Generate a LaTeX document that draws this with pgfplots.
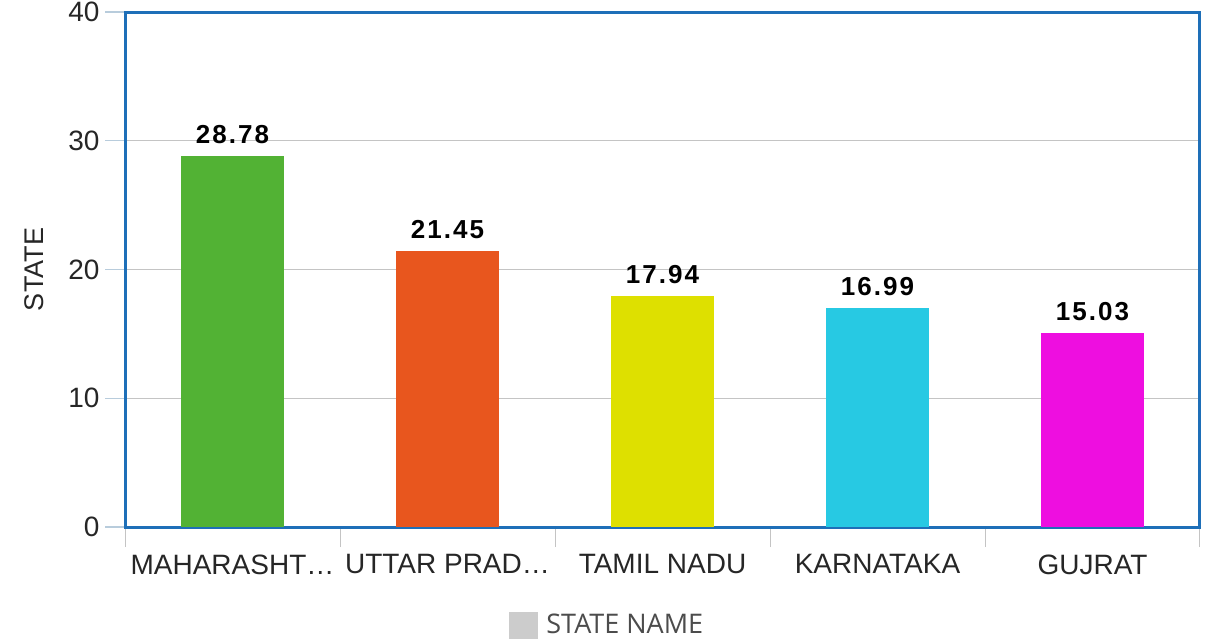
\documentclass[border=0pt]{standalone}
\usepackage{fontspec}
\setmainfont{Liberation Sans}
\newfontfamily\legfont{Open Sans}
\newfontfamily\barfont[LetterSpace=8]{Liberation Sans Bold}
\usepackage{pgfplots}
\pgfplotsset{compat=1.18}
\definecolor{cgreen}{HTML}{52B234}
\definecolor{corange}{HTML}{E8561E}
\definecolor{cyellow}{HTML}{DEE000}
\definecolor{ccyan}{HTML}{27C9E3}
\definecolor{cmag}{HTML}{EE0EE0}
\definecolor{frame}{HTML}{1E6FB8}
\definecolor{gridc}{HTML}{C4C4C4}
\definecolor{tickc}{HTML}{B8CCDC}
\begin{document}
\begin{tikzpicture}[x=1pt,y=1pt]
\useasboundingbox (0,0) rectangle (1206,641);
\begin{axis}[
  at={(125pt,114pt)}, anchor=south west,
  scale only axis, width=1075pt, height=515pt,
  xmin=-0.5, xmax=4.5, ymin=0, ymax=40,
  ybar, bar width=103pt, bar shift=0pt,
  clip=false,
  axis line style={draw=frame, line width=3pt},
  xtick={0,1,2,3,4},
  xticklabels={MAHARASHT\ldots,UTTAR PRAD\ldots,TAMIL NADU,KARNATAKA,GUJRAT},
  minor xtick={-0.5,0.5,1.5,2.5,3.5,4.5},
  xtick pos=bottom, ytick pos=left,
  tick align=outside,
  major x tick style={draw=none},
  minor x tick style={draw=gridc, line width=1pt},
  minor tick length=20pt,
  ytick={0,10,20,30,40},
  major tick length=20pt,
  ytick style={draw=tickc, line width=1.2pt},
  ymajorgrids, grid style={draw=gridc, line width=1.2pt},
  /pgf/number format/assume math mode=true,
  ticklabel style={font=\fontsize{28}{30}\selectfont, text=black!85},
  yticklabel style={xshift=-2pt},
  xticklabel style={yshift=-4pt},
  ylabel={STATE}, ylabel style={font=\fontsize{27}{30}\selectfont, text=black!85, yshift=18pt},
  nodes near coords,
  nodes near coords style={font=\barfont\fontsize{26}{28}\selectfont, text=black, yshift=9pt, /pgf/number format/.cd, fixed, precision=2, fixed zerofill},
  legend style={at={(0.448,-0.19)}, anchor=center, draw=none, inner sep=0pt, outer sep=0pt, font=\legfont\fontsize{27}{29}\selectfont, text=black!70, nodes={inner sep=1pt}},
]
\addplot[fill=cgreen, draw=none, forget plot] coordinates {(0,28.78)};
\addplot[fill=corange, draw=none, forget plot] coordinates {(1,21.45)};
\addplot[fill=cyellow, draw=none, forget plot] coordinates {(2,17.94)};
\addplot[fill=ccyan, draw=none, forget plot] coordinates {(3,16.99)};
\addplot[fill=cmag, draw=none, forget plot] coordinates {(4,15.03)};
\addlegendimage{legend image code/.code={\fill[gray!40] (0pt,-13pt) rectangle (28pt,13pt);}}
\addlegendentry{\hspace*{8pt}STATE NAME}
\end{axis}
\end{tikzpicture}
\end{document}
